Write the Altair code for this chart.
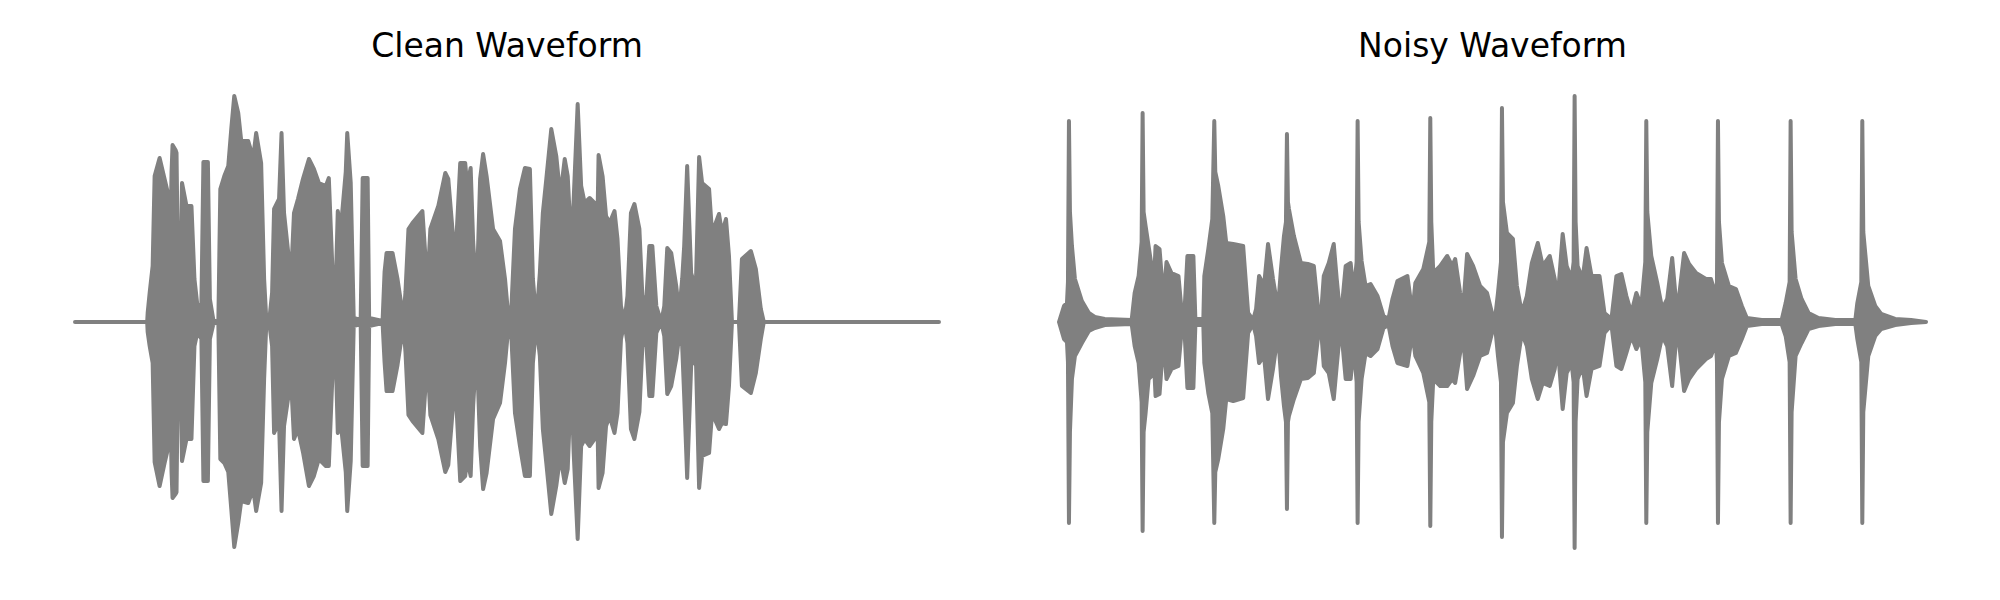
import altair as alt
import pandas as pd

# ---- Clean waveform envelope (time position, upper and lower amplitude) ----
clean_t = [0, 72.5, 73, 75, 78, 80, 85, 90, 94, 95.5, 97, 98, 101, 102, 103.5, 106, 107.5, 112, 117,
           120, 123, 127, 129, 133.5, 135.5, 139, 144, 146, 150, 154, 157, 160, 164, 167, 174,
           179, 182, 187, 190, 192, 195, 198, 200, 205, 207.5, 210, 217, 220, 224, 229, 235,
           240, 245, 252, 255, 259, 261, 264, 267, 272, 273.5, 277, 280, 287, 289, 294, 295.5,
           309, 311, 313, 319, 324, 330, 332, 335, 339, 349, 354, 357, 365, 372, 375, 380, 383,
           387, 392, 394, 397.5, 400, 403.5, 407, 410, 413.5, 420, 427, 432, 435, 438.5, 442,
           447, 452, 457, 460, 463.5, 467, 470, 473.5, 478.5, 483.5, 487.5, 492, 495, 498.5,
           501, 505, 508.5, 512, 517, 522, 524, 526, 530, 533.5, 537, 542, 545, 548.5, 552,
           555, 558.5, 562, 567, 570, 574, 577, 580, 584, 589, 592, 595, 599, 604, 607, 610,
           612, 615, 619, 622, 624, 627, 630, 637, 640, 647, 650, 654, 657, 660, 667, 670, 679,
           684, 689, 692, 868]
clean_top = [0, 0, 9, 29, 56, 146, 164, 143, 126, 59, 150, 177, 172, 169, 43, 50, 139, 116, 116,
             43, 16, 19, 160, 160, 23, 2, 0, 133, 146, 156, 193, 226, 209, 181, 181,
             164, 189, 159, 43, 6, 0, 29, 113, 123, 189, 109, 43, 109, 123, 143, 163,
             153, 139, 136, 144, 43, 2, 111, 93, 150, 189, 139, 4, 2, 144, 144, 4,
             1, 50, 69, 69, 43, 3, 30, 93, 99, 111, 36, 93, 116, 149, 143, 83, 80,
             159, 159, 136, 154, 80, 26, 143, 168, 146, 93, 81, 43, 9, 16, 93,
             133, 154, 153, 43, 2, 49, 109, 143, 193, 166, 126, 163, 146, 76,
             123, 218, 136, 119, 124, 119, 49, 167, 146, 106, 99, 111, 83, 16, 0,
             26, 109, 118, 93, 26, 23, 76, 76, 16, 0, 16, 74, 69, 36, 9, 43,
             76, 156, 49, 39, 46, 165, 139, 133, 89, 108, 89, 103, 66, 0, 0, 63, 71,
             53, 13, 0, 0]
clean_bottom = [0, 0, 10, 24, 41, 140, 164, 141, 124, 50, 150, 176, 172, 170, 41, 45, 139, 117, 117,
                24, 10, 17, 159, 159, 17, 2, 0, 137, 141, 150, 187, 225, 201, 179, 181,
                167, 189, 161, 57, 6, 0, 24, 111, 100, 189, 104, 57, 117, 107, 130, 164,
                154, 137, 144, 144, 44, 2, 111, 101, 150, 189, 139, 4, 2, 144, 144, 4,
                1, 40, 69, 69, 43, 3, 30, 93, 99, 111, 36, 93, 117, 150, 143, 81, 80,
                159, 154, 137, 154, 84, 24, 124, 167, 151, 97, 81, 41, 9, 17, 91,
                124, 154, 154, 41, 2, 34, 107, 141, 192, 164, 134, 161, 147, 57,
                131, 217, 124, 117, 124, 117, 47, 166, 151, 104, 94, 111, 91, 17, 0,
                21, 107, 117, 90, 24, 21, 74, 74, 11, 0, 14, 72, 64, 37, 14, 24,
                74, 156, 44, 34, 44, 166, 134, 131, 91, 107, 101, 102, 64, 0, 0, 64, 71,
                51, 17, 0, 0]

# ---- Noisy waveform envelope ----
noisy_t = [0, 5, 8, 9, 10, 11, 13, 16, 23, 30, 36, 46, 73, 76, 80, 83, 84, 85, 87, 90, 93, 95,
           97, 101, 105, 108, 113, 120, 123, 126, 129, 135, 137, 145, 146, 150, 154, 156, 157,
           160, 165, 168, 175, 185, 190, 195, 198, 201, 206, 210, 215, 220, 223, 226, 228, 229,
           230, 231, 236, 243, 250, 256, 260, 263, 266, 271, 276, 279, 283, 288, 293, 296, 299,
           300, 301, 304, 308, 313, 320, 326, 331, 335, 340, 350, 355, 358, 366, 372, 373, 374,
           376, 383, 390, 395, 398, 403, 406, 410, 416, 423, 430, 435, 438, 441, 444, 445, 446,
           450, 456, 460, 465, 470, 475, 481, 486, 493, 498, 501, 506, 510, 515, 517, 518, 519,
           521, 526, 530, 535, 543, 548, 555, 560, 565, 570, 575, 580, 585, 589, 590, 591, 595,
           601, 606, 611, 616, 620, 623, 628, 633, 640, 650, 655, 660, 661, 662, 663, 666, 673,
           680, 686, 691, 706, 726, 730, 734, 735, 736, 740, 746, 753, 763, 780, 800, 802, 806,
           807, 808, 813, 820, 826, 840, 856, 871]
noisy_top = [0, 16, 19, 40, 201, 110, 76, 43, 21, 9, 5, 3, 2, 29, 46, 80, 209, 110, 96, 76, 56, 29,
             76, 73, 23, 60, 49, 46, 13, 9, 66, 66, 3, 3, 46, 73, 103, 201, 150,
             136, 106, 79, 78, 76, 9, 2, 13, 46, 36, 78, 43, 13, 53, 86, 100, 188,
             120, 113, 86, 59, 58, 56, 16, 3, 46, 59, 78, 43, 2, 56, 59, 29, 60,
             201, 100, 61, 36, 38, 26, 6, 3, 23, 41, 46, 9, 39, 53, 80, 204, 100,
             49, 56, 66, 56, 63, 29, 13, 68, 56, 36, 29, 9, 3, 29, 60, 214, 120,
             89, 83, 36, 9, 26, 59, 79, 56, 66, 43, 23, 88, 56, 43, 60, 226, 100,
             56, 43, 74, 46, 46, 9, 3, 46, 48, 26, 9, 29, 16, 60, 201, 110, 66,
             39, 13, 23, 64, 19, 26, 69, 58, 49, 43, 43, 26, 40, 201, 100, 59, 36,
             33, 16, 4, 2, 2, 19, 40, 201, 90, 43, 23, 9, 4, 2, 2, 19, 40,
             201, 90, 36, 16, 8, 3, 2, 0]
noisy_bottom = [0, 17, 20, 40, 201, 110, 57, 34, 21, 9, 6, 3, 2, 24, 41, 80, 209, 110, 91, 57, 54, 31,
                74, 72, 17, 57, 47, 44, 11, 7, 66, 66, 3, 3, 41, 71, 91, 201, 150,
                137, 107, 77, 79, 76, 11, 2, 14, 41, 34, 77, 47, 11, 54, 84, 100, 187,
                100, 94, 77, 57, 56, 51, 17, 3, 44, 51, 77, 44, 2, 57, 57, 24, 60,
                201, 100, 57, 31, 34, 27, 6, 3, 24, 41, 44, 11, 34, 51, 80, 204, 100,
                57, 64, 64, 57, 61, 31, 14, 67, 54, 34, 31, 11, 3, 34, 60, 215, 120,
                91, 81, 44, 11, 24, 57, 77, 61, 64, 47, 24, 87, 51, 41, 60, 226, 100,
                57, 44, 74, 47, 44, 11, 3, 44, 47, 31, 14, 27, 17, 60, 201, 110, 61,
                37, 14, 24, 64, 17, 21, 69, 57, 47, 37, 34, 21, 40, 201, 100, 57, 34,
                31, 17, 4, 2, 2, 14, 40, 201, 90, 34, 21, 7, 4, 2, 2, 17, 40,
                201, 90, 34, 14, 7, 3, 1, 0]

GRAY = "#808080"


def panel(t, top, bottom, title, span):
    df = pd.DataFrame({"t": t, "hi": top, "lo": [-b for b in bottom]})
    return (
        alt.Chart(
            df,
            title=alt.Title(title, fontSize=33, font="DejaVu Sans", fontWeight="normal",
                            color="black", anchor="middle", offset=16),
        )
        .mark_area(color=GRAY, stroke=GRAY, strokeWidth=4, strokeJoin="round",
                   opacity=1, fillOpacity=1, interpolate="linear")
        .encode(
            x=alt.X("t:Q", scale=alt.Scale(domain=[0, span], nice=False, zero=False), axis=None),
            y=alt.Y("hi:Q", scale=alt.Scale(domain=[-242, 242], nice=False), axis=None),
            y2="lo:Q",
        )
        .properties(width=span - 4, height=484)
    )


left = panel(clean_t, clean_top, clean_bottom, "Clean Waveform", 868)
right = panel(noisy_t, noisy_top, noisy_bottom, "Noisy Waveform", 871)

chart = (
    alt.hconcat(left, right, spacing=116)
    .properties(padding={"left": 65, "top": 23, "right": 5, "bottom": 5})
    .configure_view(stroke=None)
)

chart.save("out.html", embed_options={"renderer": "svg", "actions": False})
